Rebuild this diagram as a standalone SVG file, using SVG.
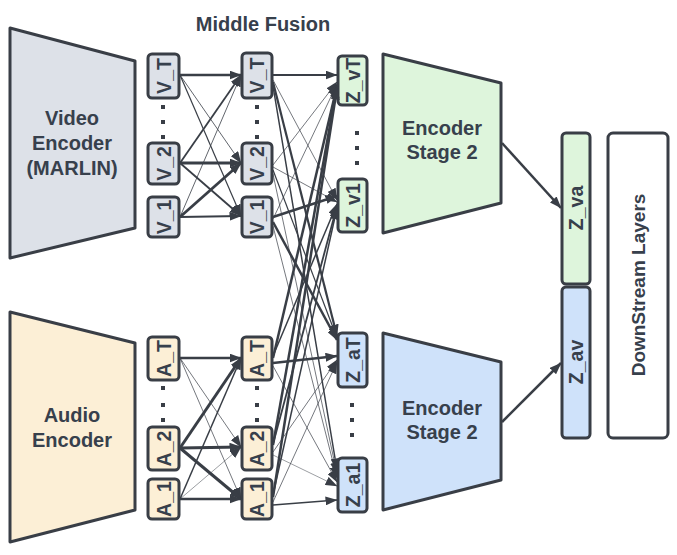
<svg xmlns="http://www.w3.org/2000/svg" width="677" height="555" viewBox="0 0 677 555">
<defs>
<marker id="ah" viewBox="0 0 12 9" refX="11.5" refY="4.5" markerWidth="12" markerHeight="9" markerUnits="userSpaceOnUse" orient="auto">
<path d="M0,0 L12,4.5 L0,9 z" fill="#393e46"/>
</marker>
<style>
.shape{stroke:#393e46;stroke-width:3;stroke-linejoin:round}
.vid{fill:#dde1e8}.aud{fill:#fcefd6}.grn{fill:#def5dc}.blu{fill:#cfe2fa}.wht{fill:#ffffff}
.lbl{font-family:"Liberation Sans",Arial,sans-serif;font-weight:bold;fill:#37404c;text-anchor:middle}
.big{font-size:20px}.tok{font-size:19.5px}
.dot{fill:#393e46}
.c line{stroke:#393e46;fill:none;marker-end:url(#ah)}
</style>
</defs>
<rect width="677" height="555" fill="#ffffff"/>
<text class="lbl big" x="263" y="31">Middle Fusion</text>

<g id="video-encoder">
<path class="shape vid" d="M10,28 L135,61 L135,228 L10,258 Z"/>
<text class="lbl big" x="72" y="125">Video</text>
<text class="lbl big" x="72" y="150">Encoder</text>
<text class="lbl big" x="72" y="175">(MARLIN)</text>
</g>
<g id="audio-encoder">
<path class="shape aud" d="M10,312 L135,343 L135,510 L10,542 Z"/>
<text class="lbl big" x="72" y="422">Audio</text>
<text class="lbl big" x="72" y="447">Encoder</text>
</g>

<g id="v1-col1-T"><rect class="shape vid" x="148" y="54" width="31" height="44" rx="4"/><text class="lbl tok" transform="translate(164,76) rotate(-90)" dy="7">V_T</text></g>
<g id="v1-col1-2"><rect class="shape vid" x="148" y="143" width="31" height="41" rx="4"/><text class="lbl tok" transform="translate(164,163.5) rotate(-90)" dy="7">V_2</text></g>
<g id="v1-col1-1"><rect class="shape vid" x="148" y="197" width="31" height="40" rx="4"/><text class="lbl tok" transform="translate(164,217) rotate(-90)" dy="7">V_1</text></g>
<g id="v-col2-T"><rect class="shape vid" x="242" y="53" width="30" height="45" rx="4"/><text class="lbl tok" transform="translate(257,75.5) rotate(-90)" dy="7">V_T</text></g>
<g id="v-col2-2"><rect class="shape vid" x="242" y="143" width="30" height="41" rx="4"/><text class="lbl tok" transform="translate(257,163.5) rotate(-90)" dy="7">V_2</text></g>
<g id="v-col2-1"><rect class="shape vid" x="242" y="197" width="30" height="40" rx="4"/><text class="lbl tok" transform="translate(257,217) rotate(-90)" dy="7">V_1</text></g>

<g id="a-col1-T"><rect class="shape aud" x="148" y="337" width="31" height="43" rx="4"/><text class="lbl tok" transform="translate(164,358.5) rotate(-90)" dy="7">A_T</text></g>
<g id="a-col1-2"><rect class="shape aud" x="148" y="427" width="31" height="43" rx="4"/><text class="lbl tok" transform="translate(164,448.5) rotate(-90)" dy="7">A_2</text></g>
<g id="a-col1-1"><rect class="shape aud" x="148" y="479" width="31" height="40" rx="4"/><text class="lbl tok" transform="translate(164,499) rotate(-90)" dy="7">A_1</text></g>
<g id="a-col2-T"><rect class="shape aud" x="242" y="337" width="30" height="43" rx="4"/><text class="lbl tok" transform="translate(257,358.5) rotate(-90)" dy="7">A_T</text></g>
<g id="a-col2-2"><rect class="shape aud" x="242" y="427" width="30" height="43" rx="4"/><text class="lbl tok" transform="translate(257,448.5) rotate(-90)" dy="7">A_2</text></g>
<g id="a-col2-1"><rect class="shape aud" x="242" y="479" width="30" height="40" rx="4"/><text class="lbl tok" transform="translate(257,499) rotate(-90)" dy="7">A_1</text></g>

<g id="z-vT"><rect class="shape grn" x="338" y="56" width="29" height="49" rx="4"/><text class="lbl tok" transform="translate(352.5,80.5) rotate(-90)" dy="7">Z_vT</text></g>
<g id="z-v1"><rect class="shape grn" x="338" y="179" width="29" height="53" rx="4"/><text class="lbl tok" transform="translate(352.5,205.5) rotate(-90)" dy="7">Z_v1</text></g>
<g id="z-aT"><rect class="shape blu" x="338" y="333" width="29" height="54" rx="4"/><text class="lbl tok" transform="translate(352.5,360) rotate(-90)" dy="7">Z_aT</text></g>
<g id="z-a1"><rect class="shape blu" x="338" y="458" width="29" height="54" rx="4"/><text class="lbl tok" transform="translate(352.5,485) rotate(-90)" dy="7">Z_a1</text></g>

<g id="dots">
<rect class="dot" x="161" y="105" width="4" height="4"/><rect class="dot" x="161" y="120" width="4" height="4"/><rect class="dot" x="161" y="135" width="4" height="4"/>
<rect class="dot" x="255" y="105" width="4" height="4"/><rect class="dot" x="255" y="120" width="4" height="4"/><rect class="dot" x="255" y="135" width="4" height="4"/>
<rect class="dot" x="161" y="386" width="4" height="4"/><rect class="dot" x="161" y="403" width="4" height="4"/><rect class="dot" x="161" y="418" width="4" height="4"/>
<rect class="dot" x="255" y="386" width="4" height="4"/><rect class="dot" x="255" y="403" width="4" height="4"/><rect class="dot" x="255" y="418" width="4" height="4"/>
<rect class="dot" x="355" y="131" width="4" height="4"/><rect class="dot" x="355" y="146" width="4" height="4"/><rect class="dot" x="355" y="161" width="4" height="4"/>
<rect class="dot" x="350" y="403" width="4" height="4"/><rect class="dot" x="350" y="418" width="4" height="4"/><rect class="dot" x="350" y="433" width="4" height="4"/>
</g>

<g id="enc2-video">
<path class="shape grn" d="M383,54 L501,83 L501,203 L383,233 Z"/>
<text class="lbl big" x="442" y="135">Encoder</text>
<text class="lbl big" x="442" y="159">Stage 2</text>
</g>
<g id="enc2-audio">
<path class="shape blu" d="M383,333 L501,362 L501,480 L383,510 Z"/>
<text class="lbl big" x="442" y="415">Encoder</text>
<text class="lbl big" x="442" y="439">Stage 2</text>
</g>

<g id="z-va"><rect class="shape grn" x="562" y="133" width="28" height="151" rx="4"/><text class="lbl tok" transform="translate(576,208) rotate(-90)" dy="7">Z_va</text></g>
<g id="z-av"><rect class="shape blu" x="562" y="287" width="28" height="151" rx="4"/><text class="lbl tok" transform="translate(576,362) rotate(-90)" dy="7">Z_av</text></g>
<g id="downstream"><rect class="shape wht" x="608" y="133" width="60" height="305" rx="5"/><text class="lbl" style="font-size:19px" transform="translate(638,285) rotate(-90)" dy="7">DownStream Layers</text></g>

<g id="connectors" class="c">
<line x1="180" y1="75" x2="241" y2="75" stroke-width="2.5"/>
<line x1="180" y1="75" x2="241" y2="163" stroke-width="0.8"/>
<line x1="180" y1="75" x2="241" y2="216" stroke-width="1.2"/>
<line x1="180" y1="163" x2="241" y2="75" stroke-width="1.8"/>
<line x1="180" y1="163" x2="241" y2="163" stroke-width="3"/>
<line x1="180" y1="163" x2="241" y2="216" stroke-width="1.8"/>
<line x1="180" y1="217" x2="241" y2="75" stroke-width="0.8"/>
<line x1="180" y1="217" x2="241" y2="163" stroke-width="2.8"/>
<line x1="180" y1="217" x2="241" y2="216" stroke-width="2"/>

<line x1="180" y1="358" x2="241" y2="358" stroke-width="2.5"/>
<line x1="180" y1="358" x2="241" y2="447" stroke-width="0.7"/>
<line x1="180" y1="358" x2="241" y2="499" stroke-width="0.7"/>
<line x1="180" y1="448" x2="241" y2="358" stroke-width="3"/>
<line x1="180" y1="448" x2="241" y2="447" stroke-width="3"/>
<line x1="180" y1="448" x2="241" y2="499" stroke-width="3"/>
<line x1="180" y1="499" x2="241" y2="358" stroke-width="1.5"/>
<line x1="180" y1="499" x2="241" y2="447" stroke-width="0.5"/>
<line x1="180" y1="499" x2="241" y2="499" stroke-width="2.5"/>

<line x1="273" y1="75" x2="337" y2="75" stroke-width="2"/>
<line x1="273" y1="165" x2="337" y2="82" stroke-width="0.7"/>
<line x1="273" y1="219" x2="337" y2="84" stroke-width="0.7"/>
<line x1="273" y1="358" x2="337" y2="86" stroke-width="2.5"/>
<line x1="273" y1="445" x2="337" y2="86" stroke-width="2.5"/>
<line x1="273" y1="497" x2="337" y2="88" stroke-width="2.5"/>

<line x1="273" y1="80" x2="337" y2="200" stroke-width="0.7"/>
<line x1="273" y1="167" x2="337" y2="202" stroke-width="0.7"/>
<line x1="273" y1="217" x2="337" y2="196" stroke-width="2.5"/>
<line x1="273" y1="356" x2="337" y2="204" stroke-width="1.5"/>
<line x1="273" y1="444" x2="337" y2="206" stroke-width="1.8"/>
<line x1="273" y1="495" x2="337" y2="208" stroke-width="1.5"/>

<line x1="273" y1="82" x2="337" y2="336" stroke-width="2.2"/>
<line x1="273" y1="170" x2="337" y2="338" stroke-width="1.2"/>
<line x1="273" y1="222" x2="337" y2="340" stroke-width="2.5"/>
<line x1="273" y1="363" x2="337" y2="356" stroke-width="2.5"/>
<line x1="273" y1="452" x2="337" y2="360" stroke-width="0.7"/>
<line x1="273" y1="502" x2="337" y2="362" stroke-width="0.7"/>

<line x1="273" y1="86" x2="337" y2="470" stroke-width="1.5"/>
<line x1="273" y1="174" x2="337" y2="474" stroke-width="0.7"/>
<line x1="273" y1="226" x2="337" y2="478" stroke-width="0.7"/>
<line x1="273" y1="366" x2="337" y2="482" stroke-width="0.7"/>
<line x1="273" y1="455" x2="337" y2="486" stroke-width="0.5"/>
<line x1="273" y1="505" x2="337" y2="500" stroke-width="1.5"/>

<line x1="502" y1="143" x2="561" y2="208" stroke-width="2.5"/>
<line x1="502" y1="422" x2="561" y2="363" stroke-width="2.5"/>
</g>
</svg>
